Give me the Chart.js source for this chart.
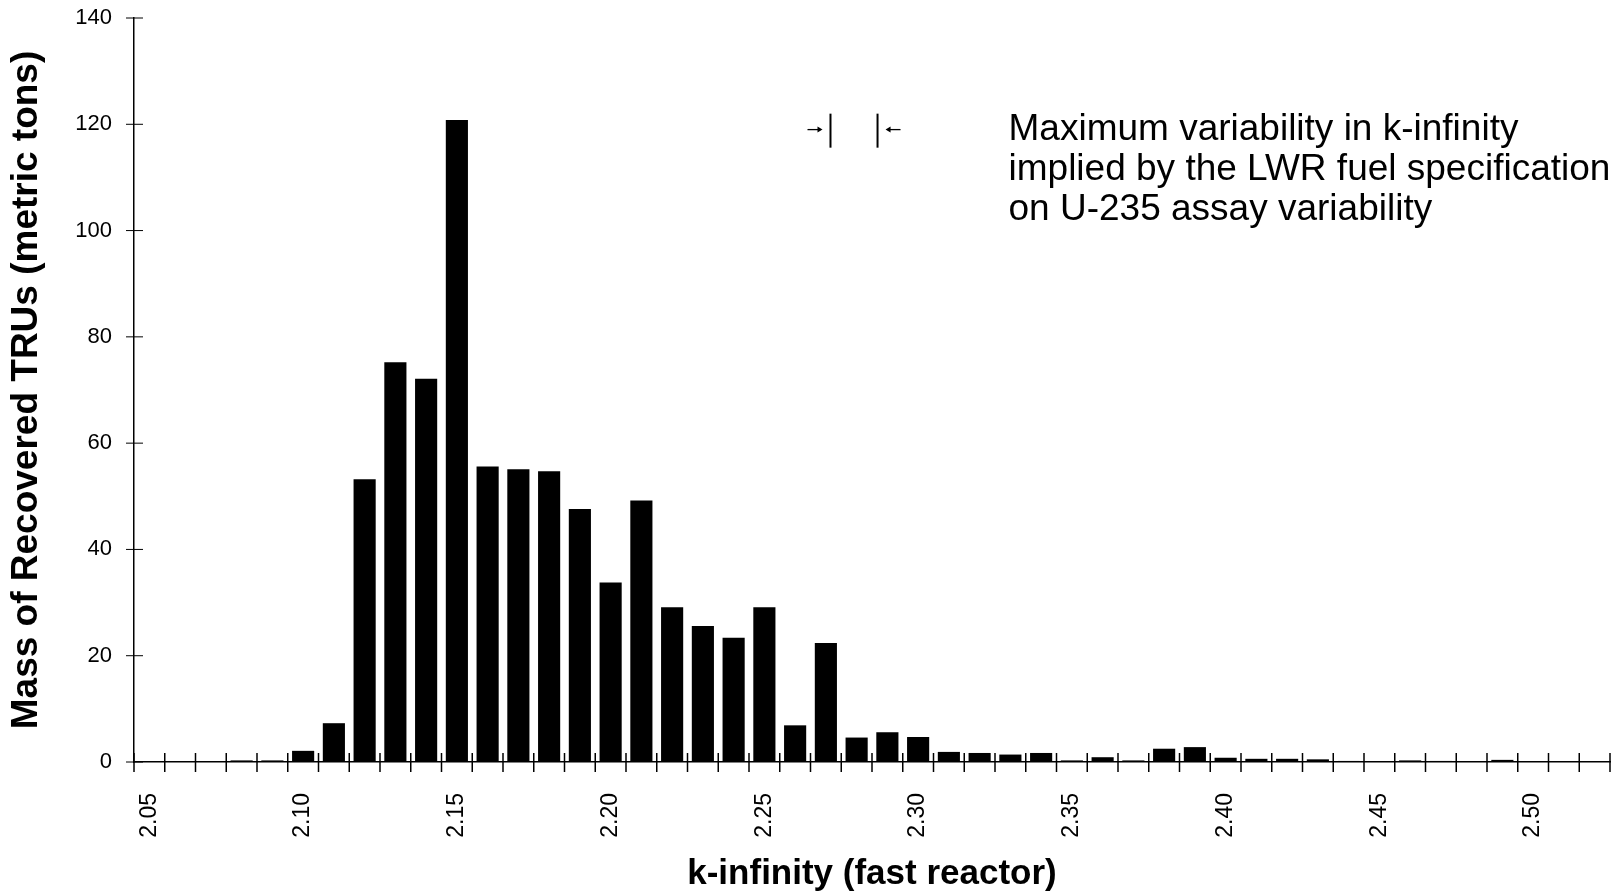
<!DOCTYPE html>
<html>
<head>
<meta charset="utf-8">
<script src="https://cdn.jsdelivr.net/npm/chart.js@4/dist/chart.umd.min.js"></script>
<style>
  html, body { margin: 0; padding: 0; background: #fff; }
  #wrap { width: 1622px; height: 896px; position: relative; }
</style>
</head>
<body>
<div id="wrap"><canvas id="c" width="1622" height="896"></canvas></div>
<script>
// ---- Data ----
const categories = ["2.05","2.06","2.07","2.08","2.09","2.10","2.11","2.12","2.13","2.14",
  "2.15","2.16","2.17","2.18","2.19","2.20","2.21","2.22","2.23","2.24",
  "2.25","2.26","2.27","2.28","2.29","2.30","2.31","2.32","2.33","2.34",
  "2.35","2.36","2.37","2.38","2.39","2.40","2.41","2.42","2.43","2.44",
  "2.45","2.46","2.47","2.48","2.49","2.50","2.51","2.52"];
const massTRU = [0, 0.1, 0.1, 0.3, 0.3, 2.1, 7.3, 53.2, 75.2, 72.1,
  120.8, 55.6, 55.1, 54.7, 47.6, 33.8, 49.2, 29.1, 25.6, 23.4,
  29.1, 6.9, 22.4, 4.6, 5.6, 4.7, 1.9, 1.7, 1.4, 1.7,
  0.3, 0.9, 0.3, 2.5, 2.8, 0.8, 0.6, 0.6, 0.5, 0.2,
  0.1, 0.3, 0.2, 0.1, 0.4, 0.1, 0.1, 0.1];
const labelEvery = 5;                 // x tick labels shown every 0.05
const yTickValues = [0, 20, 40, 60, 80, 100, 120, 140];
const variabilityRangeK = [2.2715, 2.2868];   // k-infinity span of the marker
const noteLines = ["Maximum variability in k-infinity",
                   "implied by the LWR fuel specification",
                   "on U-235 assay variability"];
const noteAnchor = { k: 2.3294, value: 117 };  // left / first baseline of the note

const FONT = "'Liberation Sans', Arial, Helvetica, sans-serif";
const kToIndex = k => (k - parseFloat(categories[0])) / 0.01;

const refPlugin = {
  id: 'refDecor',
  afterDraw(chart) {
    const ctx = chart.ctx, xs = chart.scales.x, ys = chart.scales.y;
    ctx.save();
    ctx.strokeStyle = '#000';
    ctx.fillStyle = '#000';
    ctx.lineWidth = 1.5;
    // x tick marks at category boundaries, crossing the axis
    const step = xs.getPixelForValue(1) - xs.getPixelForValue(0);
    const y0 = ys.getPixelForValue(0);
    for (let i = 0; i <= categories.length; i++) {
      const px = xs.getPixelForValue(i) - step / 2;
      ctx.beginPath(); ctx.moveTo(px, y0 - 9); ctx.lineTo(px, y0 + 10); ctx.stroke();
    }
    // y tick marks crossing the axis
    ctx.lineWidth = 1;
    for (const v of yTickValues) {
      const py = ys.getPixelForValue(v);
      ctx.beginPath(); ctx.moveTo(xs.left - 8, py); ctx.lineTo(xs.left + 9, py); ctx.stroke();
    }
    // variability marker  ->|   |<-
    const xa = xs.getPixelForValue(kToIndex(variabilityRangeK[0]));
    const xb = xs.getPixelForValue(kToIndex(variabilityRangeK[1]));
    const yt = ys.getPixelForValue(122), yb = ys.getPixelForValue(115.6), ym = ys.getPixelForValue(119);
    ctx.lineWidth = 2;
    ctx.beginPath(); ctx.moveTo(xa, yt); ctx.lineTo(xa, yb); ctx.stroke();
    ctx.beginPath(); ctx.moveTo(xb, yt); ctx.lineTo(xb, yb); ctx.stroke();
    ctx.lineWidth = 1.3;
    ctx.beginPath(); ctx.moveTo(xa - 23, ym); ctx.lineTo(xa - 10, ym); ctx.stroke();
    ctx.beginPath(); ctx.moveTo(xa - 8, ym); ctx.lineTo(xa - 13, ym - 3); ctx.lineTo(xa - 13, ym + 3); ctx.closePath(); ctx.fill();
    ctx.beginPath(); ctx.moveTo(xb + 10, ym); ctx.lineTo(xb + 23, ym); ctx.stroke();
    ctx.beginPath(); ctx.moveTo(xb + 8, ym); ctx.lineTo(xb + 13, ym - 3); ctx.lineTo(xb + 13, ym + 3); ctx.closePath(); ctx.fill();
    // note text
    ctx.font = "37px " + FONT;
    ctx.textAlign = 'left';
    ctx.textBaseline = 'alphabetic';
    const nx = xs.getPixelForValue(kToIndex(noteAnchor.k));
    const ny = ys.getPixelForValue(noteAnchor.value);
    noteLines.forEach((t, i) => ctx.fillText(t, nx, ny + i * 40));
    ctx.restore();
  }
};

const zeroPad = s => { s.paddingLeft = 0; s.paddingRight = 0; s.paddingTop = 0; s.paddingBottom = 0; };

new Chart(document.getElementById('c'), {
  type: 'bar',
  data: {
    labels: categories,
    datasets: [{
      data: massTRU,
      backgroundColor: '#000',
      borderWidth: 0,
      barPercentage: 0.72,
      categoryPercentage: 1.0
    }]
  },
  options: {
    responsive: false,
    animation: false,
    devicePixelRatio: 1,
    layout: { padding: { top: 18, right: 12, left: 0, bottom: 0 } },
    plugins: { legend: { display: false }, tooltip: { enabled: false } },
    scales: {
      x: {
        offset: true,
        grid: { display: true, drawOnChartArea: false, drawTicks: false, offset: true },
        border: { display: true, color: '#000', width: 1.5 },
        ticks: {
          autoSkip: false,
          maxRotation: 90, minRotation: 90,
          padding: 31,
          color: '#000',
          font: { family: FONT, size: 23 },
          callback: (v, i) => (i % labelEvery === 0 ? categories[i] : '')
        },
        title: {
          display: true,
          text: 'k-infinity (fast reactor)',
          color: '#000',
          font: { family: FONT, size: 35, weight: 'bold' },
          padding: { top: 0, bottom: 1 }
        },
        afterFit: s => { s.height = 134; zeroPad(s); }
      },
      y: {
        min: 0, max: 140,
        grid: { display: true, drawOnChartArea: false, drawTicks: false },
        border: { display: true, color: '#000', width: 1.5 },
        ticks: {
          stepSize: 20,
          padding: 22,
          color: '#000',
          font: { family: FONT, size: 22 }
        },
        title: {
          display: true,
          text: 'Mass of Recovered TRUs (metric tons)',
          color: '#000',
          font: { family: FONT, size: 37, weight: 'bold' },
          padding: { top: 5, bottom: 0 }
        },
        afterFit: s => { s.width = 134; zeroPad(s); }
      }
    }
  },
  plugins: [refPlugin]
});
</script>
</body>
</html>
